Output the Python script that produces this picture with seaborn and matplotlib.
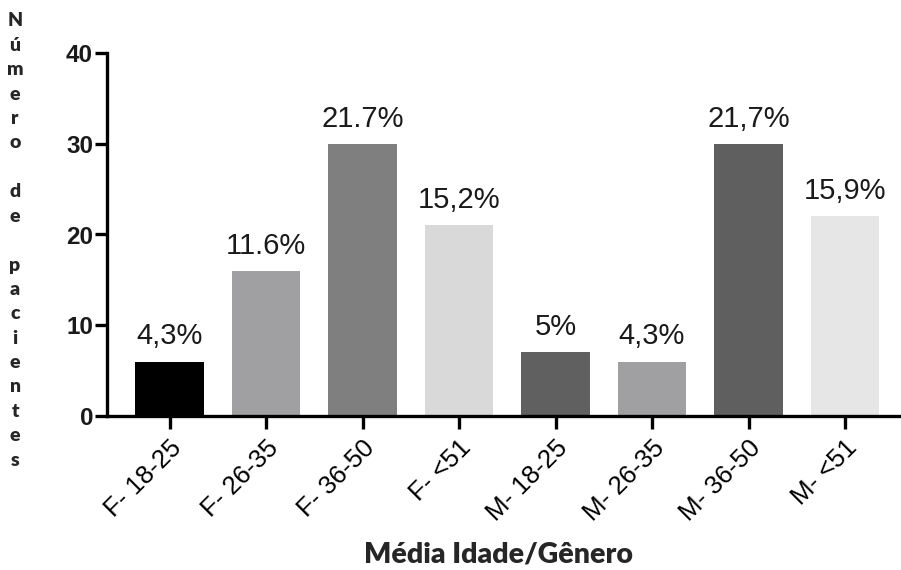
import matplotlib
matplotlib.use("Agg")
import matplotlib.pyplot as plt
import seaborn as sns
import pandas as pd

categories = ["F- 18-25", "F- 26-35", "F- 36-50", "F- <51",
              "M- 18-25", "M- 26-35", "M- 36-50", "M- <51"]
values = [6, 16, 30, 21, 7, 6, 30, 22]
percent_labels = ["4,3%", "11.6%", "21.7%", "15,2%", "5%", "4,3%", "21,7%", "15,9%"]
bar_colors = ["#000000", "#a0a0a2", "#7f7f7f", "#d9d9d9",
              "#606060", "#a0a0a2", "#5f5f5f", "#e6e6e6"]
y_ticks = [0, 10, 20, 30, 40]
y_label = "Número de pacientes"
x_label = "Média Idade/Gênero"

sns.set_theme(style="ticks")
plt.rcParams['font.family'] = ['Liberation Sans', 'DejaVu Sans']

df = pd.DataFrame({"cat": categories, "val": values})

fig = plt.figure(figsize=(9.01, 5.70), dpi=100)
ax = fig.add_axes([107/901, 1 - 416/570, 1 - 107/901, (416 - 53)/570])

sns.barplot(data=df, x="cat", y="val", hue="cat", palette=bar_colors,
            legend=False, width=0.71, saturation=1, ax=ax, edgecolor="none")

ax.set_xlim(-0.648, 7.58)
ax.set_ylim(0, 40)
ax.set_yticks(y_ticks)
ax.set_yticklabels([str(t) for t in y_ticks], fontsize=17.5, fontweight='bold', color="#1a1a1a")
ax.set_xticks(range(len(categories)))
ax.set_xticklabels(categories, rotation=45, ha='right', rotation_mode='anchor',
                   fontsize=18.5, color="#000000")
ax.set_xlabel("")
ax.set_ylabel("")

for s in ["top", "right"]:
    ax.spines[s].set_visible(False)
for s in ["left", "bottom"]:
    ax.spines[s].set_linewidth(2.4)
    ax.spines[s].set_color("black")
ax.tick_params(axis='both', length=9, width=2.4, color="black")
ax.tick_params(axis='y', pad=1)
ax.tick_params(axis='x', pad=5)

for i, (v, lab) in enumerate(zip(values, percent_labels)):
    ax.annotate(lab, (i, v), xytext=(0, 8), textcoords="offset points",
                ha='center', va='bottom', fontsize=21, color="#1a1a1a")

# stacked vertical y label
top_px, step_px = 21, 24.4
for i, ch in enumerate(y_label):
    fig.text(15/901, 1 - (top_px + i*step_px)/570, ch, ha='center', va='center',
             fontsize=14, fontweight='heavy', family=['Lato', 'DejaVu Sans'])

fig.text(499/901, 1 - 554/570, x_label, ha='center', va='center',
         fontsize=20.5, fontweight='heavy', family=['Lato', 'DejaVu Sans'])

fig.savefig("out.png", dpi=100)
